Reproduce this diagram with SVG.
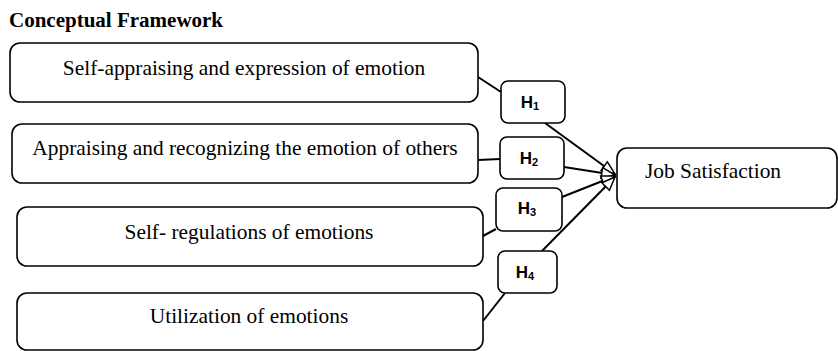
<svg xmlns="http://www.w3.org/2000/svg" width="838" height="351" viewBox="0 0 838 351">
<defs>
<style>
.box{fill:#fff;stroke:#000;stroke-width:1.6}
.t{font-family:"Liberation Serif","Times New Roman",serif;font-size:21.4px;fill:#000}
.h{font-family:"Liberation Sans",Arial,sans-serif;font-size:17px;font-weight:bold;fill:#000}
.c{fill:none;stroke:#000;stroke-width:2}
</style>
<marker id="arr" viewBox="0 0 12 10" refX="11" refY="5" markerWidth="8" markerHeight="7" orient="auto" markerUnits="strokeWidth">
<path d="M1,1 L11,5 L1,9 Z" fill="#fff" stroke="#000" stroke-width="1.1"/>
</marker>
</defs>
<rect width="838" height="351" fill="#fff"/>
<text x="9" y="27" font-family="'Liberation Serif','Times New Roman',serif" font-size="21" font-weight="bold">Conceptual Framework</text>
<g id="connectors">
<line class="c" x1="478" y1="77" x2="501" y2="92"/>
<line class="c" x1="478" y1="160" x2="500" y2="159"/>
<line class="c" x1="483" y1="236" x2="496" y2="229"/>
<line class="c" x1="483" y1="321" x2="505" y2="293"/>
<line class="c" x1="545" y1="123" x2="615" y2="174" marker-end="url(#arr)"/>
<line class="c" x1="564" y1="167" x2="615" y2="175" marker-end="url(#arr)"/>
<line class="c" x1="562" y1="197" x2="615" y2="176" marker-end="url(#arr)"/>
<line class="c" x1="542" y1="251" x2="615" y2="177" marker-end="url(#arr)"/>
</g>
<g id="n1"><rect class="box" x="10" y="43" width="468" height="59" rx="10"/><text class="t" x="244" y="75" text-anchor="middle">Self-appraising and expression of emotion</text></g>
<g id="n2"><rect class="box" x="12" y="124" width="466" height="59" rx="10"/><text class="t" x="245" y="155" text-anchor="middle">Appraising and recognizing the emotion of others</text></g>
<g id="n3"><rect class="box" x="17" y="207" width="466" height="59" rx="10"/><text class="t" x="249" y="239" text-anchor="middle">Self- regulations of emotions</text></g>
<g id="n4"><rect class="box" x="17" y="293" width="466" height="57" rx="10"/><text class="t" x="249" y="323" text-anchor="middle">Utilization of emotions</text></g>
<g id="job"><rect class="box" x="617" y="148" width="220" height="60" rx="10"/><text class="t" x="645" y="178">Job Satisfaction</text></g>
<g id="h1"><rect class="box" x="501" y="81" width="64" height="42" rx="7"/><text class="h" x="530" y="108" text-anchor="middle">H<tspan font-size="11" dy="2">1</tspan></text></g>
<g id="h2"><rect class="box" x="500" y="137" width="64" height="42" rx="7"/><text class="h" x="529" y="164" text-anchor="middle">H<tspan font-size="11" dy="2">2</tspan></text></g>
<g id="h3"><rect class="box" x="496" y="188" width="66" height="43" rx="7"/><text class="h" x="527" y="214" text-anchor="middle">H<tspan font-size="11" dy="2">3</tspan></text></g>
<g id="h4"><rect class="box" x="498" y="251" width="59" height="42" rx="7"/><text class="h" x="525" y="278" text-anchor="middle">H<tspan font-size="11" dy="2">4</tspan></text></g>
</svg>
